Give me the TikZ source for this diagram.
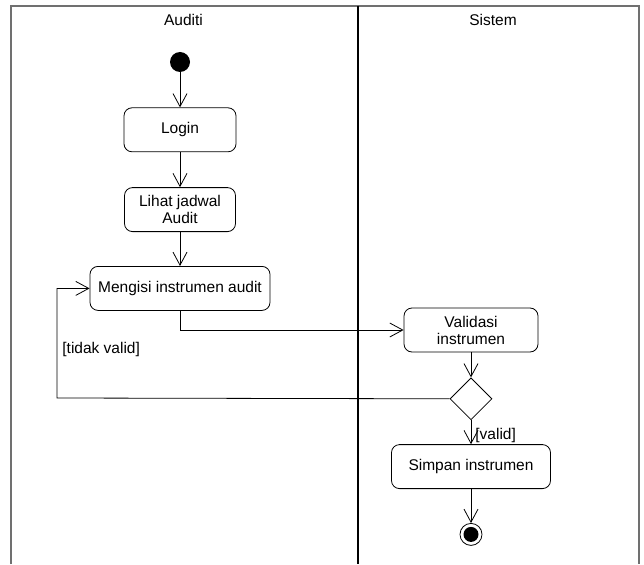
\documentclass[tikz,border=0pt]{standalone}
\usepackage{fontspec}
\setmainfont{Liberation Sans}
\usetikzlibrary{arrows.meta, positioning, shapes.geometric}

\definecolor{lanegray}{RGB}{112,112,112}

\tikzset{
  activity/.style={draw, rounded corners=8pt, align=center, inner sep=2pt, minimum height=44pt},
  startnode/.style={circle, fill=black, minimum size=20pt, inner sep=0pt},
  endnode/.style={circle, draw, minimum size=22pt, inner sep=0pt,
    path picture={\fill (path picture bounding box.center) circle (7.5pt);}},
  decision/.style={diamond, draw, minimum width=42pt, minimum height=42pt, inner sep=0pt},
  flow/.style={-{Straight Barb[length=13pt,width=14pt]}},
  guard/.style={anchor=west, inner sep=0pt},
}

\begin{document}
\begin{tikzpicture}[x=1pt, y=-1pt, font=\fontsize{15.5}{17}\selectfont, line width=0.8pt]
  \useasboundingbox (0,0) rectangle (644,564);

  % swimlanes
  \draw[lanegray, line width=2pt] (11,564) -- (11,6) -- (639,6) -- (639,564);
  \draw[line width=2pt] (358,6) -- (358,564);
  \node (auditi) at (183.5,20) {Auditi};
  \node (sistem) at (493,20) {Sistem};

  % Auditi
  \node[startnode] (start) at (180,62) {};
  \node[activity, minimum width=112pt, below=35pt of start] (login) {Login};
  \node[activity, minimum width=111pt, below=35pt of login] (lihat) {Lihat jadwal\\Audit};
  \node[activity, minimum width=180pt, below=34pt of lihat] (mengisi) {Mengisi instrumen audit};

  % Sistem
  \node[activity, minimum width=134pt] (validasi) at (471,330) {Validasi\\instrumen};
  \node[decision, below=25pt of validasi] (cek) {};
  \node[activity, minimum width=159pt, below=24pt of cek] (simpan) {Simpan instrumen};
  \node[endnode, below=34pt of simpan] (end) {};
  \coordinate (loopcorner) at (57,398);

  \draw[flow] (start) -- (login);
  \draw[flow] (login) -- (lihat);
  \draw[flow] (lihat) -- (mengisi);
  \draw[flow] (mengisi.south) |- (validasi.west);
  \draw[flow] (validasi) -- (cek);
  \draw[flow] (cek) -- (simpan);
  \draw[flow] (simpan) -- (end);
  \draw[flow] (cek.west) -- (loopcorner) |- (mengisi.west);

  % guards
  \node[guard] (tidakvalid) at (62,349) {[tidak valid]};
  \node[guard] (valid) at (475,435) {[valid]};
\end{tikzpicture}
\end{document}
